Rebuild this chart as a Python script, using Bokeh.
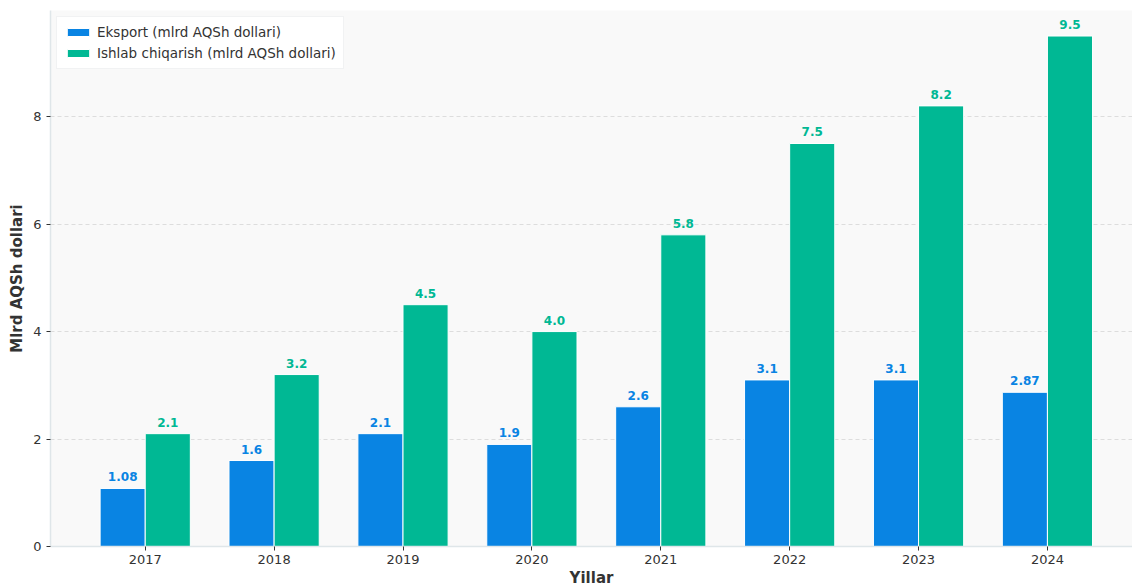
from bokeh.plotting import figure
from bokeh.models import ColumnDataSource, FixedTicker, Legend, LegendItem
from bokeh.embed import file_html
from bokeh.resources import INLINE
from bokeh.core.properties import value

years = ["2017", "2018", "2019", "2020", "2021", "2022", "2023", "2024"]
eksport = [1.08, 1.6, 2.1, 1.9, 2.6, 3.1, 3.1, 2.87]
ishlab = [2.1, 3.2, 4.5, 4.0, 5.8, 7.5, 8.2, 9.5]

BLUE = "#0984e3"
GREEN = "#00b894"
W = 0.35
idx = list(range(len(years)))

src_e = ColumnDataSource(dict(x=[i - W / 2 for i in idx], top=eksport,
                              lbl=[str(v) for v in eksport]))
src_i = ColumnDataSource(dict(x=[i + W / 2 for i in idx], top=ishlab,
                              lbl=[f"{v:.1f}" for v in ishlab]))

p = figure(width=1132, height=589, output_backend="svg", toolbar_location=None,
           x_range=(-0.735, 7.66), y_range=(0, 9.975),
           min_border_left=50, min_border_right=0, min_border_top=10, min_border_bottom=38)

p.background_fill_color = "#f9f9f9"
p.border_fill_color = "white"
p.outline_line_color = None

r1 = p.vbar(x="x", top="top", width=W, source=src_e, fill_color=BLUE,
            line_color="white", line_width=1)
r2 = p.vbar(x="x", top="top", width=W, source=src_i, fill_color=GREEN,
            line_color="white", line_width=1)

common = dict(text_font=value("DejaVu Sans"), text_font_style="bold",
              text_font_size="12px", text_align="center", text_baseline="bottom",
              y_offset=-7)
p.text(x="x", y="top", text="lbl", source=src_e, text_color=BLUE, **common)
p.text(x="x", y="top", text="lbl", source=src_i, text_color=GREEN, **common)

p.xaxis.ticker = FixedTicker(ticks=idx)
p.xaxis.major_label_overrides = {i: y for i, y in enumerate(years)}
p.yaxis.ticker = FixedTicker(ticks=[0, 2, 4, 6, 8])

for ax in (p.xaxis[0], p.yaxis[0]):
    ax.axis_line_color = "#dfe6e9"
    ax.axis_line_width = 1.5
    ax.major_tick_line_color = "#333333"
    ax.major_tick_out = 4
    ax.major_tick_in = 0
    ax.minor_tick_line_color = None
    ax.major_label_text_font = "DejaVu Sans"
    ax.major_label_text_font_size = "13px"
    ax.major_label_text_color = "#333333"
    ax.axis_label_text_font = "DejaVu Sans"
    ax.axis_label_text_font_style = "bold"
    ax.axis_label_text_font_size = "15px"
    ax.axis_label_text_color = "#333333"
    ax.major_label_standoff = 5
    ax.axis_label_standoff = 4

p.xaxis.major_label_standoff = 4
p.xaxis.axis_label_standoff = 2

p.xaxis.axis_label = "Yillar"
p.yaxis.axis_label = "Mlrd AQSh dollari"

p.xgrid.grid_line_color = None
p.ygrid.grid_line_color = "#dddddd"
p.ygrid.grid_line_dash = "4 3"
p.ygrid.grid_line_width = 1

legend = Legend(items=[LegendItem(label="Eksport (mlrd AQSh dollari)", renderers=[r1]),
                       LegendItem(label="Ishlab chiqarish (mlrd AQSh dollari)", renderers=[r2])],
                location="top_left")
legend.label_text_font = "DejaVu Sans"
legend.label_text_font_size = "13.5px"
legend.label_text_color = "#333333"
legend.background_fill_color = "white"
legend.background_fill_alpha = 0.9
legend.border_line_color = "#e3e6e8"
legend.glyph_height = 10
legend.glyph_width = 28
legend.spacing = 5
legend.padding = 7
legend.margin = 6
legend.label_height = 16
p.add_layout(legend)

open("out.html", "w").write(file_html(p, INLINE))
